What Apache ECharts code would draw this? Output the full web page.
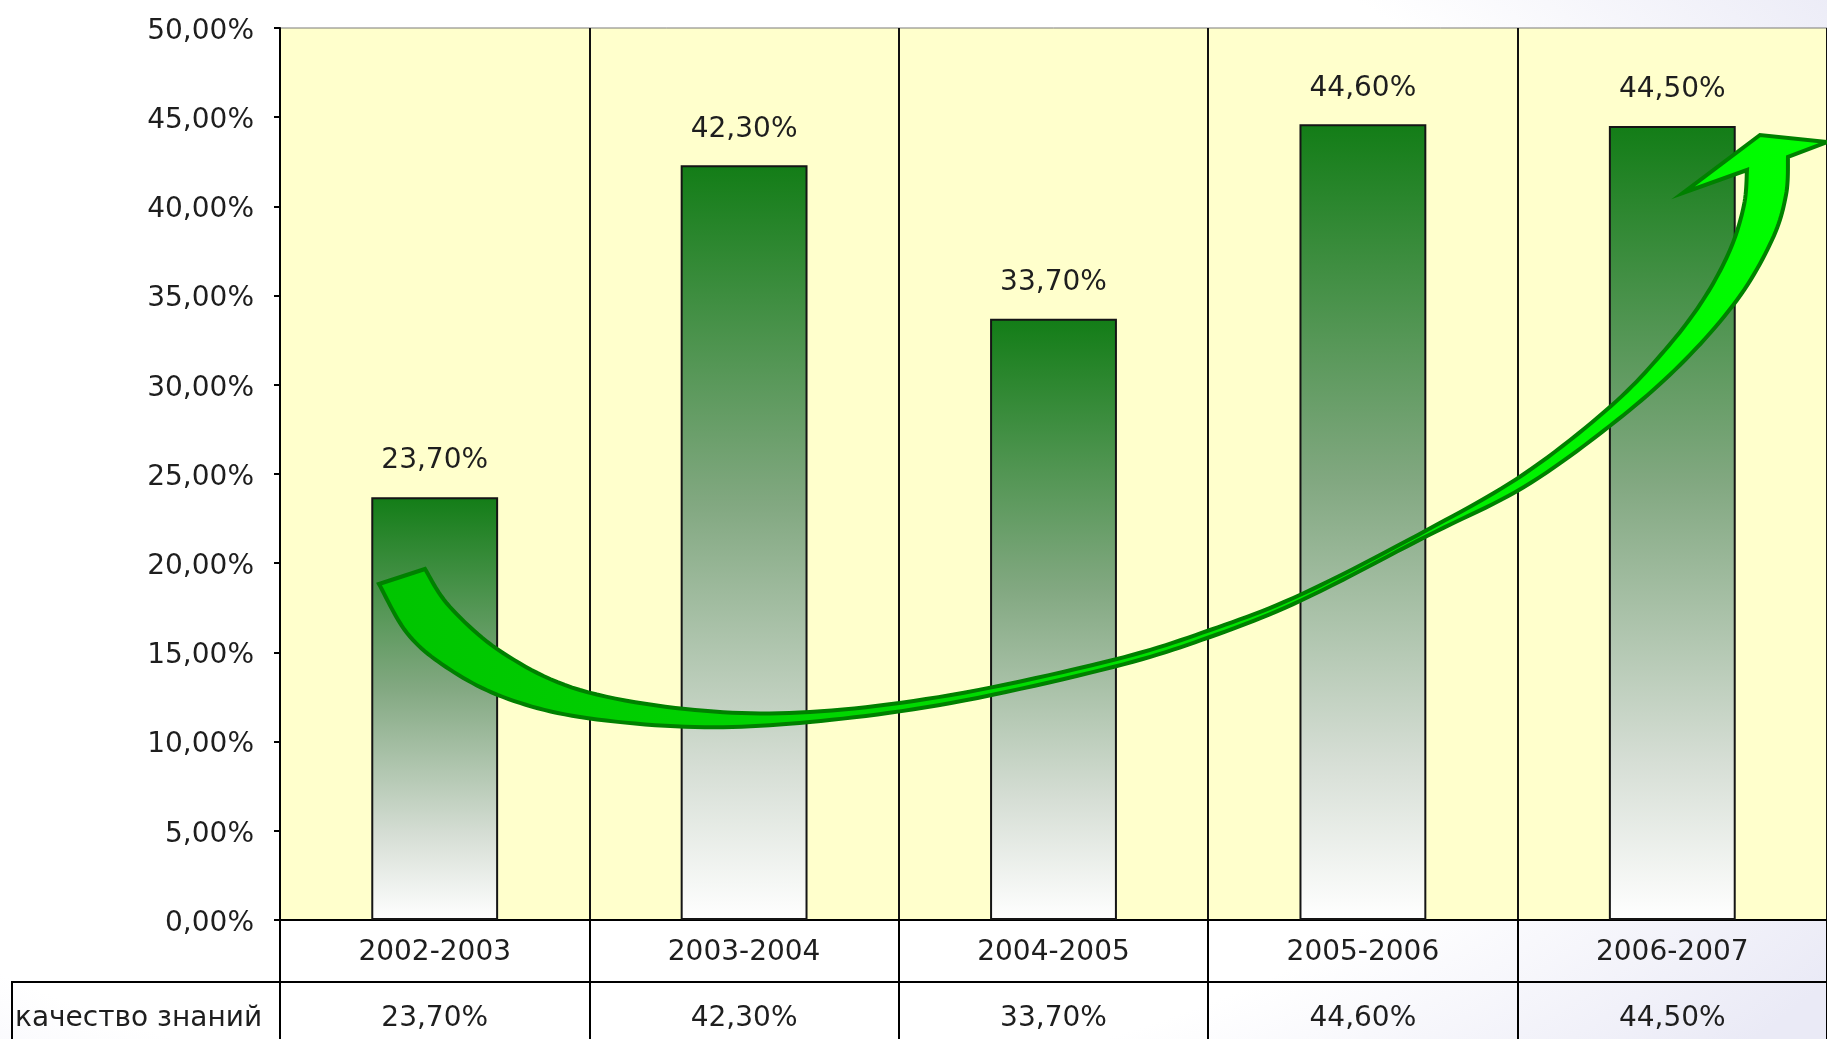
<!DOCTYPE html>
<html>
<head>
<meta charset="utf-8">
<script src="https://cdn.jsdelivr.net/npm/echarts@6/dist/echarts.min.js"></script>
<style>
html,body{margin:0;padding:0;width:1827px;height:1039px;overflow:hidden;
background:radial-gradient(ellipse 80% 85% at 35% 45%, #ffffff 72%, #eaeaf6 100%);}
#chart{width:1827px;height:1039px;}
</style>
</head>
<body>
<div id="chart"></div>
<script>
// ---- data ----
const categories = ['2002-2003', '2003-2004', '2004-2005', '2005-2006', '2006-2007'];
const quality = [23.7, 42.3, 33.7, 44.6, 44.5];
const seriesName = 'качество знаний';
const yMin = 0, yMax = 50, yStep = 5;

// ---- helpers ----
const FONT = 'DejaVu Sans';
const fmt = v => Number(v).toFixed(2).replace('.', ',') + '%';

// decorative curved arrow (annotation, pixel space)
const outerEdge = [[379,584],[407,633],[446,667],[503,697],[580,717],[695,727],[810,722],[951,703],
  [1113,667],[1210,637],[1302,600],[1427,536],[1524,487],[1611,425],[1680,365],
  [1737,300],[1772,240],[1786,195],[1788,157]];
const innerEdge = [[425,569],[450,607],[503,653],[580,690],[695,710],[810,712],[951,695],
  [1113,660],[1210,630],[1302,594],[1427,530],[1524,474],[1611,406],[1665,350],[1703,300],
  [1730,250],[1744,205],[1747,170]];
const headPts = [[1827,142],[1760,135],[1683,193]];

function sampleSpline(pts, n) {
  const out = [];
  for (let i = 0; i < pts.length - 1; i++) {
    const p0 = pts[i - 1] || pts[i], p1 = pts[i], p2 = pts[i + 1], p3 = pts[i + 2] || pts[i + 1];
    const c1 = [p1[0] + (p2[0] - p0[0]) / 6, p1[1] + (p2[1] - p0[1]) / 6];
    const c2 = [p2[0] - (p3[0] - p1[0]) / 6, p2[1] - (p3[1] - p1[1]) / 6];
    for (let k = 0; k < n; k++) {
      const t = k / n, u = 1 - t;
      out.push([
        u*u*u*p1[0] + 3*u*u*t*c1[0] + 3*u*t*t*c2[0] + t*t*t*p2[0],
        u*u*u*p1[1] + 3*u*u*t*c1[1] + 3*u*t*t*c2[1] + t*t*t*p2[1]
      ]);
    }
  }
  out.push(pts[pts.length - 1]);
  return out;
}
const arrowPoly = [].concat(
  sampleSpline(outerEdge, 12),
  headPts,
  sampleSpline(innerEdge, 12).reverse()
);

const chart = echarts.init(document.getElementById('chart'));
chart.setOption({
  animation: false,
  backgroundColor: 'transparent',
  textStyle: { fontFamily: FONT },
  grid: {
    left: 280, right: -5, top: 28, bottom: 119,
    show: true, backgroundColor: '#FFFFCC', borderColor: '#7a7a7a', borderWidth: 1
  },
  xAxis: [{
    type: 'category',
    data: categories,
    position: 'bottom',
    axisLine: { show: true, lineStyle: { color: '#000', width: 2 } },
    axisTick: { show: true, alignWithLabel: false, inside: false, length: 62, lineStyle: { color: '#000', width: 2 } },
    axisLabel: { fontFamily: FONT, fontSize: 28, color: '#1e1e1e', margin: 19 },
    splitLine: { show: true, lineStyle: { color: '#111', width: 2 } }
  }, {
    type: 'category',
    data: quality.map(fmt),
    position: 'bottom',
    offset: 62,
    axisLine: { show: true, lineStyle: { color: '#000', width: 2 } },
    axisTick: { show: true, alignWithLabel: false, inside: false, length: 60, lineStyle: { color: '#000', width: 2 } },
    axisLabel: { fontFamily: FONT, fontSize: 28, color: '#1e1e1e', margin: 23 },
    splitLine: { show: false }
  }],
  yAxis: {
    type: 'value',
    min: yMin, max: yMax, interval: yStep,
    axisLine: { show: true, lineStyle: { color: '#000', width: 2 } },
    axisTick: { show: true, inside: false, length: 6, lineStyle: { color: '#000', width: 2 } },
    axisLabel: {
      formatter: v => '{t|' + fmt(v) + '}',
      margin: 26,
      rich: { t: { fontFamily: FONT, fontSize: 28, color: '#1e1e1e', padding: [7, 0, 0, 0] } }
    },
    splitLine: { show: false }
  },
  series: [{
    name: seriesName,
    type: 'bar',
    xAxisIndex: 0,
    data: quality,
    barWidth: '41%',
    itemStyle: {
      color: {
        type: 'linear', x: 0, y: 0, x2: 0, y2: 1,
        colorStops: [
          { offset: 0, color: '#137d17' },
          { offset: 0.45, color: '#82a881' },
          { offset: 0.8, color: '#d6ded5' },
          { offset: 1, color: '#ffffff' }
        ]
      },
      borderColor: '#151515',
      borderWidth: 2
    },
    label: {
      show: true, position: 'top', distance: 22,
      formatter: p => fmt(p.value),
      fontFamily: FONT, fontSize: 28, color: '#1e1e1e'
    }
  }],
  graphic: [
    { type: 'line', shape: { x1: 11, y1: 982, x2: 280, y2: 982 }, style: { stroke: '#000', lineWidth: 2 }, z: 10 },
    { type: 'line', shape: { x1: 12, y1: 982, x2: 12, y2: 1039 }, style: { stroke: '#000', lineWidth: 2 }, z: 10 },
    { type: 'text', x: 15, y: 1019, style: { text: seriesName, font: '28px "DejaVu Sans"', fill: '#1e1e1e', textVerticalAlign: 'middle', verticalAlign: 'middle' }, z: 10 },
    {
      type: 'polygon', z: 100,
      shape: { points: arrowPoly },
      style: {
        fill: { type: 'linear', x: 0, y: 0, x2: 1, y2: 0,
          colorStops: [{ offset: 0, color: '#00c400' }, { offset: 1, color: '#00ff00' }] },
        stroke: '#008000', lineWidth: 4, lineJoin: 'miter'
      }
    }
  ]
});
</script>
</body>
</html>
